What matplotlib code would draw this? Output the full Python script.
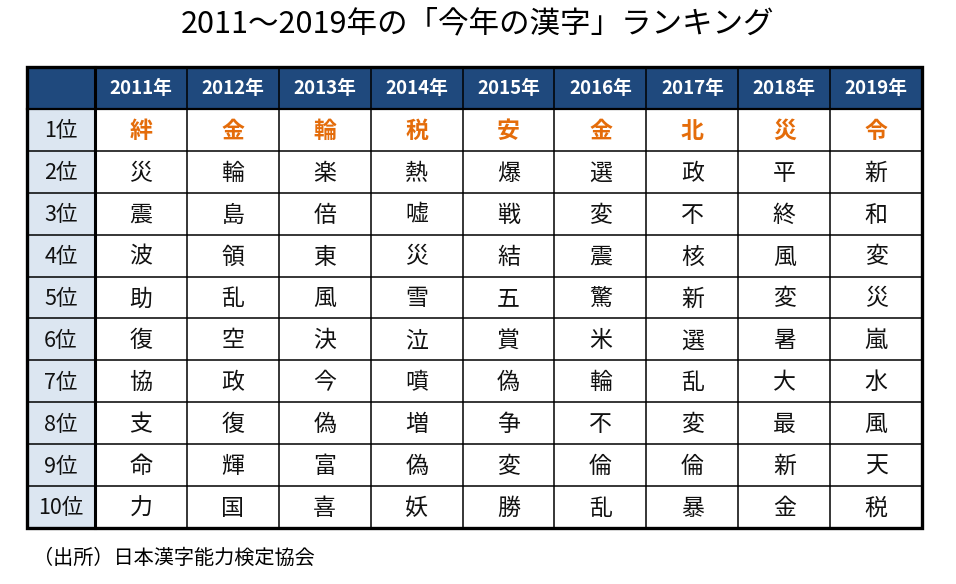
import matplotlib
matplotlib.use('Agg')
import matplotlib.pyplot as plt
from matplotlib.patches import Rectangle

plt.rcParams['font.family'] = ['Noto Sans CJK JP', 'DejaVu Sans']

years = ['2011年', '2012年', '2013年', '2014年', '2015年',
         '2016年', '2017年', '2018年', '2019年']
ranks = ['1位', '2位', '3位', '4位', '5位', '6位', '7位', '8位', '9位', '10位']
kanji = [
    ['絆', '災', '震', '波', '助', '復', '協', '支', '命', '力'],
    ['金', '輪', '島', '領', '乱', '空', '政', '復', '輝', '国'],
    ['輪', '楽', '倍', '東', '風', '決', '今', '偽', '富', '喜'],
    ['税', '熱', '嘘', '災', '雪', '泣', '噴', '増', '偽', '妖'],
    ['安', '爆', '戦', '結', '五', '賞', '偽', '争', '変', '勝'],
    ['金', '選', '変', '震', '驚', '米', '輪', '不', '倫', '乱'],
    ['北', '政', '不', '核', '新', '選', '乱', '変', '倫', '暴'],
    ['災', '平', '終', '風', '変', '暑', '大', '最', '新', '金'],
    ['令', '新', '和', '変', '災', '嵐', '水', '風', '天', '税'],
]

navy = '#1f497d'
light = '#dce6f1'
orange = '#e46c0a'

fig = plt.figure(figsize=(9.56, 5.84), dpi=100)
ax = fig.add_axes([0, 0, 1, 1])
ax.set_xlim(0, 956)
ax.set_ylim(584, 0)
ax.axis('off')

left, top = 27, 67
first_w, col_w, row_h = 68, 91.9, 41.9
n_cols = len(years)
n_rows = len(ranks) + 1
right = left + first_w + col_w * n_cols
bottom = top + row_h * n_rows

def col_x(j):
    return left + first_w + col_w * j

# header row
ax.add_patch(Rectangle((left, top), right - left, row_h, fc=navy, ec='none'))
# rank column
ax.add_patch(Rectangle((left, top + row_h), first_w, row_h * len(ranks), fc=light, ec='none'))

for j, y in enumerate(years):
    ax.text(col_x(j) + col_w / 2, top + row_h / 2 + 1, y, color='white', fontsize=13.5,
            fontweight='bold', ha='center', va='center')

for i, r in enumerate(ranks):
    cy = top + row_h * (i + 1.5) + 1.5
    ax.text(left + first_w / 2, cy, r, fontsize=15.5, ha='center', va='center', color='#111111')
    for j in range(n_cols):
        ch = kanji[j][i]
        if i == 0:
            ax.text(col_x(j) + col_w / 2, cy, ch, fontsize=16.5, fontweight='bold',
                    color=orange, ha='center', va='center')
        else:
            ax.text(col_x(j) + col_w / 2, cy, ch, fontsize=16.5,
                    color='#111111', ha='center', va='center')

# grid lines
for i in range(1, n_rows):
    y = top + row_h * i
    ax.plot([left, right], [y, y], color='black', lw=1.1 if i > 1 else 1.6, zorder=3)
for j in range(1, n_cols):
    x = col_x(j)
    ax.plot([x, x], [top, bottom], color='black', lw=1.1, zorder=3)
ax.plot([left + first_w] * 2, [top, bottom], color='black', lw=2.2, zorder=4)
ax.add_patch(Rectangle((left, top), right - left, bottom - top, fc='none',
                       ec='black', lw=2.4, zorder=5))

ax.text(478, 24, '2011～2019年の「今年の漢字」ランキング', fontsize=22,
        ha='center', va='center', color='black')
ax.text(33, 558, '（出所）日本漢字能力検定協会', fontsize=14.5,
        ha='left', va='center', color='black')

fig.savefig('out.png', dpi=100)
